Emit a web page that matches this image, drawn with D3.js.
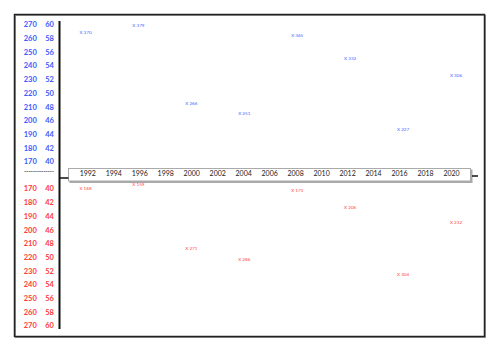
<!DOCTYPE html>
<html>
<head>
<meta charset="utf-8">
<script src="https://cdn.jsdelivr.net/npm/d3@7/dist/d3.min.js"></script>
<style>
  html, body { margin: 0; padding: 0; background: #fff; }
  svg { display: block; font-family: Lato, "Open Sans", sans-serif; }
</style>
</head>
<body>
<svg id="chart" width="500" height="353"></svg>
<script>
// ---- data ----
const tickYears = [1992, 1994, 1996, 1998, 2000, 2002, 2004, 2006, 2008, 2010, 2012, 2014, 2016, 2018, 2020];
const electionYears = [1992, 1996, 2000, 2004, 2008, 2012, 2016, 2020];
const blueValues = [370, 379, 266, 251, 365, 332, 227, 306];
const redValues  = [168, 159, 271, 286, 173, 206, 304, 232];
const blueLabelsA = [270, 260, 250, 240, 230, 220, 210, 200, 190, 180, 170];
const blueLabelsB = [60, 58, 56, 54, 52, 50, 48, 46, 44, 42, 40];
const redLabelsA  = [170, 180, 190, 200, 210, 220, 230, 240, 250, 260, 270];
const redLabelsB  = [40, 42, 44, 46, 48, 50, 52, 54, 56, 58, 60];

const BLUE = "#3b5bff", RED = "#ff3b3b";
const svg = d3.select("#chart");

// outer frame
svg.append("rect").attr("x", 15.5).attr("y", 15.5).attr("width", 470).attr("height", 322)
  .attr("fill", "none").attr("stroke", "#999").attr("stroke-width", 1);
svg.append("rect").attr("x", 14.5).attr("y", 14.5).attr("width", 470).attr("height", 322)
  .attr("fill", "none").attr("stroke", "#222").attr("stroke-width", 1.5);

// scales
const x = d3.scaleLinear().domain([1992, 2020]).range([87.3, 451]);
const xPt = d3.scaleLinear().domain([1992, 2020]).range([85.5, 456]);
const yBlue = d3.scaleLinear().domain([227, 379]).range([129.7, 25.8]);
const yRed = d3.scalePow().exponent(2).domain([159, 304]).range([184, 274]);
const yBlueLab = d3.scalePoint().domain(blueLabelsA.map((d, i) => i)).range([24.5, 161.7]);
const yRedLab = d3.scalePoint().domain(redLabelsA.map((d, i) => i)).range([188.7, 325.7]);

// vertical axis line
svg.append("line").attr("x1", 59.5).attr("x2", 59.5).attr("y1", 21).attr("y2", 329)
  .attr("stroke", "#111").attr("stroke-width", 2);

// year box
svg.append("rect").attr("x", 69.5).attr("y", 169.5).attr("width", 403).attr("height", 13.5)
  .attr("fill", "#aaa");
svg.append("rect").attr("x", 68.5).attr("y", 168.5).attr("width", 402).attr("height", 12.5)
  .attr("fill", "#fff").attr("stroke", "#aaa").attr("stroke-width", 1);
svg.append("line").attr("x1", 59.5).attr("x2", 68.5).attr("y1", 178).attr("y2", 178)
  .attr("stroke", "#111").attr("stroke-width", 1.5);
svg.append("line").attr("x1", 472).attr("x2", 478).attr("y1", 176).attr("y2", 176)
  .attr("stroke", "#111").attr("stroke-width", 1.5);

// year axis
const xAxis = d3.axisBottom(x).tickValues(tickYears).tickFormat(d3.format("d")).tickSize(0).tickPadding(0);
const gx = svg.append("g").attr("transform", "translate(0,172)").call(xAxis);
gx.select(".domain").remove();
gx.selectAll("text").attr("font-size", 7).attr("fill", "#222")
  .attr("font-family", "Lato, sans-serif").attr("dy", "0.6em");

// left labels
function colLabels(vals, cx, yScale, color) {
  svg.append("g").selectAll("text").data(vals).join("text")
    .attr("x", cx).attr("y", (d, i) => yScale(i)).attr("dy", "0.36em")
    .attr("text-anchor", "middle").attr("font-size", 7.5).attr("font-weight", "bold")
    .attr("fill", color).text(d => d);
}
colLabels(blueLabelsA, 30.3, yBlueLab, BLUE);
colLabels(blueLabelsB, 49.5, yBlueLab, BLUE);
colLabels(redLabelsA, 30.3, yRedLab, RED);
colLabels(redLabelsB, 49.5, yRedLab, RED);

svg.append("text").attr("x", 24).attr("y", 172).attr("dy", "0.3em")
  .attr("font-size", 7).attr("fill", "#333").attr("textLength", 30).attr("lengthAdjust", "spacing")
  .text("--------------");

// point labels
svg.append("g").selectAll("text").data(electionYears).join("text")
  .attr("x", d => xPt(d)).attr("y", (d, i) => yBlue(blueValues[i])).attr("dy", "0.35em")
  .attr("text-anchor", "middle").attr("font-size", 4.6).attr("fill", "#4466ff")
  .text((d, i) => "X " + blueValues[i]);
svg.append("g").selectAll("text").data(electionYears).join("text")
  .attr("x", d => xPt(d)).attr("y", (d, i) => yRed(redValues[i])).attr("dy", "0.35em")
  .attr("text-anchor", "middle").attr("font-size", 4.6).attr("fill", "#ff4444")
  .text((d, i) => "X " + redValues[i]);
</script>
</body>
</html>
